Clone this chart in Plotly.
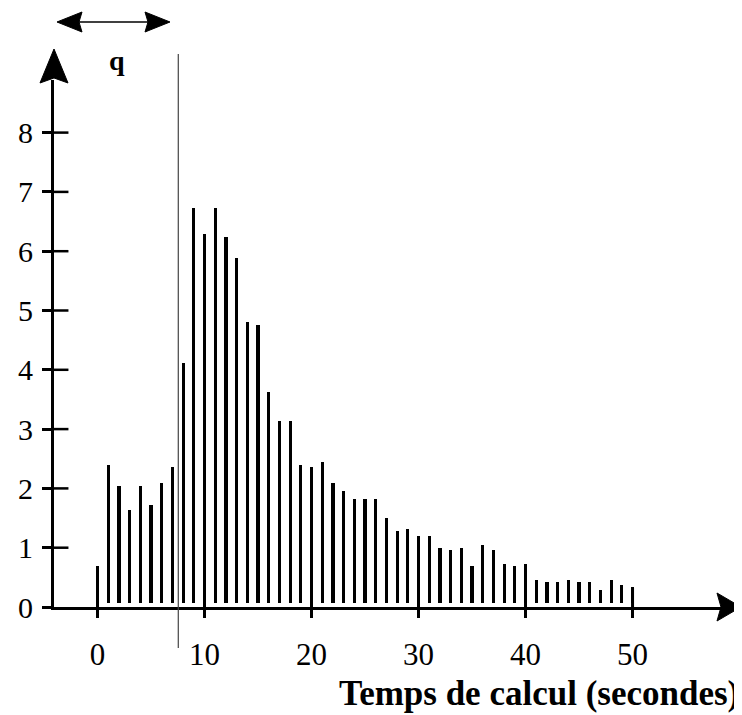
import plotly.graph_objects as go

# ---- data ----
times = list(range(0, 51))  # seconds
frequencies = [0.69, 2.40, 2.04, 1.63, 2.04, 1.72, 2.09, 2.36, 4.12, 6.73,
               6.29, 6.73, 6.24, 5.89, 4.80, 4.76, 3.63, 3.13, 3.13, 2.40,
               2.36, 2.45, 2.09, 1.95, 1.82, 1.82, 1.82, 1.50, 1.28, 1.32,
               1.19, 1.19, 1.00, 0.96, 1.00, 0.69, 1.05, 0.96, 0.73, 0.69,
               0.73, 0.46, 0.42, 0.42, 0.46, 0.42, 0.42, 0.28, 0.46, 0.37,
               0.33]
x_ticks = [0, 10, 20, 30, 40, 50]
x_tick_labels = ["0", "10", "20", "30", "40", "50"]
y_ticks = [0, 1, 2, 3, 4, 5, 6, 7, 8]
y_tick_labels = ["0", "1", "2", "3", "4", "5", "6", "7", "8"]
q_position = 7.55           # vertical marker line (seconds)
x_title = "Temps de calcul (secondes)"
q_label = "q"

# ---- geometry (page body has an 8px margin) ----
OFF = 8
W, H = 742 - OFF, 715 - OFF
ML, MR, MT, MB = 46, 20, 72, 108
X_RANGE = [-4.065, 58.36]
Y_RANGE = [0, 8.887]
FONT = "Liberation Serif"
gap = 0.06

pw = W - ML - MR
ph = H - MT - MB


def px(xpix):
    """reference-window pixel x -> paper x"""
    return (xpix - OFF - ML) / pw


def py(ypix):
    """reference-window pixel y -> paper y"""
    return (H - MB - (ypix - OFF)) / ph


def poly(points):
    return "M " + " L ".join(f"{px(a):.5f},{py(b):.5f}" for a, b in points) + " Z"


fig = go.Figure()

# bars
fig.add_trace(go.Bar(
    x=times, y=[f - gap for f in frequencies], base=gap,
    width=0.3, marker=dict(color="black", line=dict(width=0)),
    hoverinfo="skip", showlegend=False))

# x tick marks crossing the axis (upper part)
fig.add_trace(go.Scatter(
    x=x_ticks, y=[0.13] * len(x_ticks), mode="markers",
    marker=dict(symbol="line-ns", size=16, line=dict(width=3, color="black")),
    cliponaxis=False, hoverinfo="skip", showlegend=False))

# y tick marks crossing the axis (right part)
fig.add_trace(go.Scatter(
    x=[-3.5] * (len(y_ticks) - 1), y=y_ticks[1:], mode="markers",
    marker=dict(symbol="line-ew", size=12, line=dict(width=2.5, color="black")),
    cliponaxis=False, hoverinfo="skip", showlegend=False))

# axis arrowheads (decoration, paper coordinates)
AX_Y = 607
AX_X = 54
fig.add_shape(type="path", xref="paper", yref="paper", layer="above",
              path=poly([(741, AX_Y), (717, AX_Y - 14), (721, AX_Y), (717, AX_Y + 14)]),
              fillcolor="black", line=dict(color="black", width=1))
fig.add_shape(type="path", xref="paper", yref="paper", layer="above",
              path=poly([(AX_X, 49), (AX_X - 14, 83), (AX_X, 78), (AX_X + 14, 83)]),
              fillcolor="black", line=dict(color="black", width=1))
# q double arrow
fig.add_shape(type="path", xref="paper", yref="paper", layer="above",
              path=poly([(57, 22), (82, 12), (79, 22), (82, 32)]),
              fillcolor="black", line=dict(color="black", width=1))
fig.add_shape(type="path", xref="paper", yref="paper", layer="above",
              path=poly([(170, 22), (145, 12), (148, 22), (145, 32)]),
              fillcolor="black", line=dict(color="black", width=1))
fig.add_shape(type="line", xref="paper", yref="paper",
              x0=px(78), x1=px(150), y0=py(22), y1=py(22),
              line=dict(color="black", width=1.5))

# vertical line at q
fig.add_shape(type="line", xref="x", yref="paper",
              x0=q_position, x1=q_position, y0=py(54), y1=py(648),
              line=dict(color="#444444", width=1.2))

fig.add_annotation(text="<b>" + q_label + "</b>", xref="paper", yref="paper",
                   x=px(117), y=py(60), showarrow=False,
                   xanchor="center", yanchor="middle",
                   font=dict(family=FONT, size=28, color="black"))

fig.add_annotation(text="<b>" + x_title + "</b>", xref="paper", yref="paper",
                   x=px(741), y=py(693),
                   xanchor="right", yanchor="middle", showarrow=False,
                   font=dict(family=FONT, size=35, color="black"))

fig.update_xaxes(range=X_RANGE, showgrid=False, zeroline=False, automargin=False,
                 showline=True, linewidth=3, linecolor="black",
                 tickmode="array", tickvals=x_ticks, ticktext=x_tick_labels,
                 ticks="outside", ticklen=8, tickwidth=3, tickcolor="black",
                 ticklabelstandoff=10,
                 tickfont=dict(family=FONT, size=31, color="black"))
fig.update_yaxes(range=Y_RANGE, showgrid=False, zeroline=False, automargin=False,
                 showline=True, linewidth=3, linecolor="black",
                 tickmode="array", tickvals=y_ticks, ticktext=y_tick_labels,
                 ticks="outside", ticklen=9, tickwidth=2.5, tickcolor="black",
                 ticklabelstandoff=3,
                 tickfont=dict(family=FONT, size=30, color="black"))

fig.update_layout(width=W, height=H, autosize=False,
                  margin=dict(l=ML, r=MR, t=MT, b=MB, autoexpand=False),
                  paper_bgcolor="white", plot_bgcolor="white",
                  bargap=0, showlegend=False)

fig.write_html("out.html")
